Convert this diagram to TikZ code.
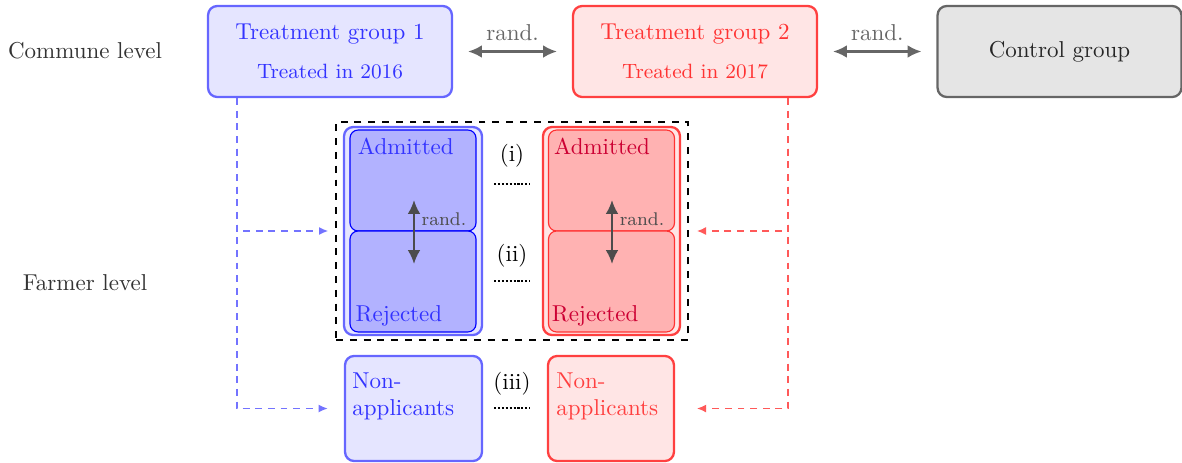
\documentclass[tikz,border=0pt]{standalone}
\usetikzlibrary{arrows.meta}

\begin{document}
\begin{tikzpicture}[x=0.435pt,y=-0.435pt,
    group/.style={draw,rounded corners=4pt,line width=1pt,minimum width=106.1pt,minimum height=39.6pt,align=center},
    outerbox/.style={draw,rounded corners=4pt,line width=1pt,minimum width=60pt,minimum height=90.5pt},
    innerbox/.style={draw,rounded corners=3.5pt,line width=0.5pt,minimum width=54.8pt,minimum height=43.9pt},
    nonbox/.style={draw,rounded corners=4pt,line width=1pt,minimum height=45.7pt},
    randarrow/.style={{Latex[length=6pt,width=5.5pt]}-{Latex[length=6pt,width=5.5pt]},line width=1pt,black!70},
    dotline/.style={line width=1.2pt,dash pattern=on 0.9pt off 0.8pt},
    feed/.style={dash pattern=on 3pt off 2.5pt,line width=0.6pt,-{Latex[length=4pt,width=3.5pt]}}]
    \useasboundingbox (0,0) rectangle (1182,462);
    % levels
    \node[black!80] (commune) at (85,51) {Commune level};
    \node[black!80] (farmer) at (85,283) {Farmer level};
    % commune groups
    \node[group,draw=blue!60,fill=blue!10,text=blue!80] (tg1) at (330,51.5) {Treatment group 1\\[5pt]\small Treated in 2016};
    \node[group,draw=red!75,fill=red!10,text=red!80] (tg2) at (695,51.5) {Treatment group 2\\[5pt]\small Treated in 2017};
    \node[group,draw=black!60,fill=black!10,text=black!85] (ctrl) at (1059.5,51.5) {Control group};
    \draw[randarrow,black!60,shorten <=6.5pt,shorten >=6.5pt] (tg1.east) -- (tg2.west) node[midway,above=1pt,text=black!60] {rand.};
    \draw[randarrow,black!60,shorten <=6.5pt,shorten >=6.5pt] (tg2.east) -- (ctrl.west) node[midway,above=1pt,text=black!60] {rand.};
    % applicants
    \node[draw,dashed,line width=0.8pt,minimum width=153.1pt,minimum height=94.8pt] (frame) at (512,231) {};
    \node[outerbox,draw=blue!60,fill=blue!10] (app1) at (413,231) {};
    \node[innerbox,draw=blue,fill=blue!30] (adm1) at (413,180.5) {};
    \node[innerbox,draw=blue,fill=blue!30] (rej1) at (413,281.5) {};
    \node[anchor=north west,inner sep=3.5pt,text=blue!80] (adm1text) at (adm1.north west) {Admitted};
    \node[anchor=south west,inner sep=2.5pt,text=blue!80] (rej1text) at (rej1.south west) {Rejected};
    \node[outerbox,draw=red!75,fill=red!10,minimum width=59.6pt] (app2) at (611.5,231) {};
    \node[innerbox,draw=red!80,fill=red!30] (adm2) at (611.5,180.5) {};
    \node[innerbox,draw=red!80,fill=red!30] (rej2) at (611.5,281.5) {};
    \node[anchor=north west,inner sep=3.5pt,xshift=-1pt,text=red!80!blue] (adm2text) at (adm2.north west) {Admitted};
    \node[anchor=south west,inner sep=2.5pt,xshift=-1pt,text=red!80!blue] (rej2text) at (rej2.south west) {Rejected};
    % rand. inside
    \coordinate (a1top) at (414,200);
    \coordinate (a1bot) at (414,264);
    \draw[randarrow] (a1top) -- (a1bot);
    \node[black!70,font=\footnotesize] (r1) at (444,219) {rand.};
    \coordinate (a2top) at (612,200);
    \coordinate (a2bot) at (612,264);
    \draw[randarrow] (a2top) -- (a2bot);
    \node[black!70,font=\footnotesize] (r2) at (642,219) {rand.};
    % non-applicants
    \node[nonbox,draw=blue!60,fill=blue!10,minimum width=59.6pt] (na1) at (413.5,408.5) {};
    \node[anchor=north west,inner sep=0pt,text=blue!80,align=left] (na1text) at (352,372) {Non-\\applicants};
    \node[nonbox,draw=red!75,fill=red!10,minimum width=54.8pt] (na2) at (611,408.5) {};
    \node[anchor=north west,inner sep=0pt,text=red!75,align=left] (na2text) at (556,372) {Non-\\applicants};
    % comparisons
    \node (ci) at (512,156) {(i)};
    \draw[dotline] (494,184) -- (530,184);
    \node (cii) at (512,256) {(ii)};
    \draw[dotline] (494,281) -- (530,281);
    \node (ciii) at (512,384) {(iii)};
    \draw[dotline] (494,408) -- (530,408);
    % feeds
    \draw[feed,blue!55,shorten >=3pt] ([xshift=30*0.435pt]tg1.south west) |- (frame.west);
    \draw[feed,blue!55,shorten >=7pt] ([xshift=30*0.435pt]tg1.south west) |- (na1.west);
    \draw[feed,red!65,shorten >=3.5pt] ([xshift=-30*0.435pt]tg2.south east) |- (frame.east);
    \draw[feed,red!65,shorten >=9.5pt] ([xshift=-30*0.435pt]tg2.south east) |- (na2.east);
\end{tikzpicture}
\end{document}
